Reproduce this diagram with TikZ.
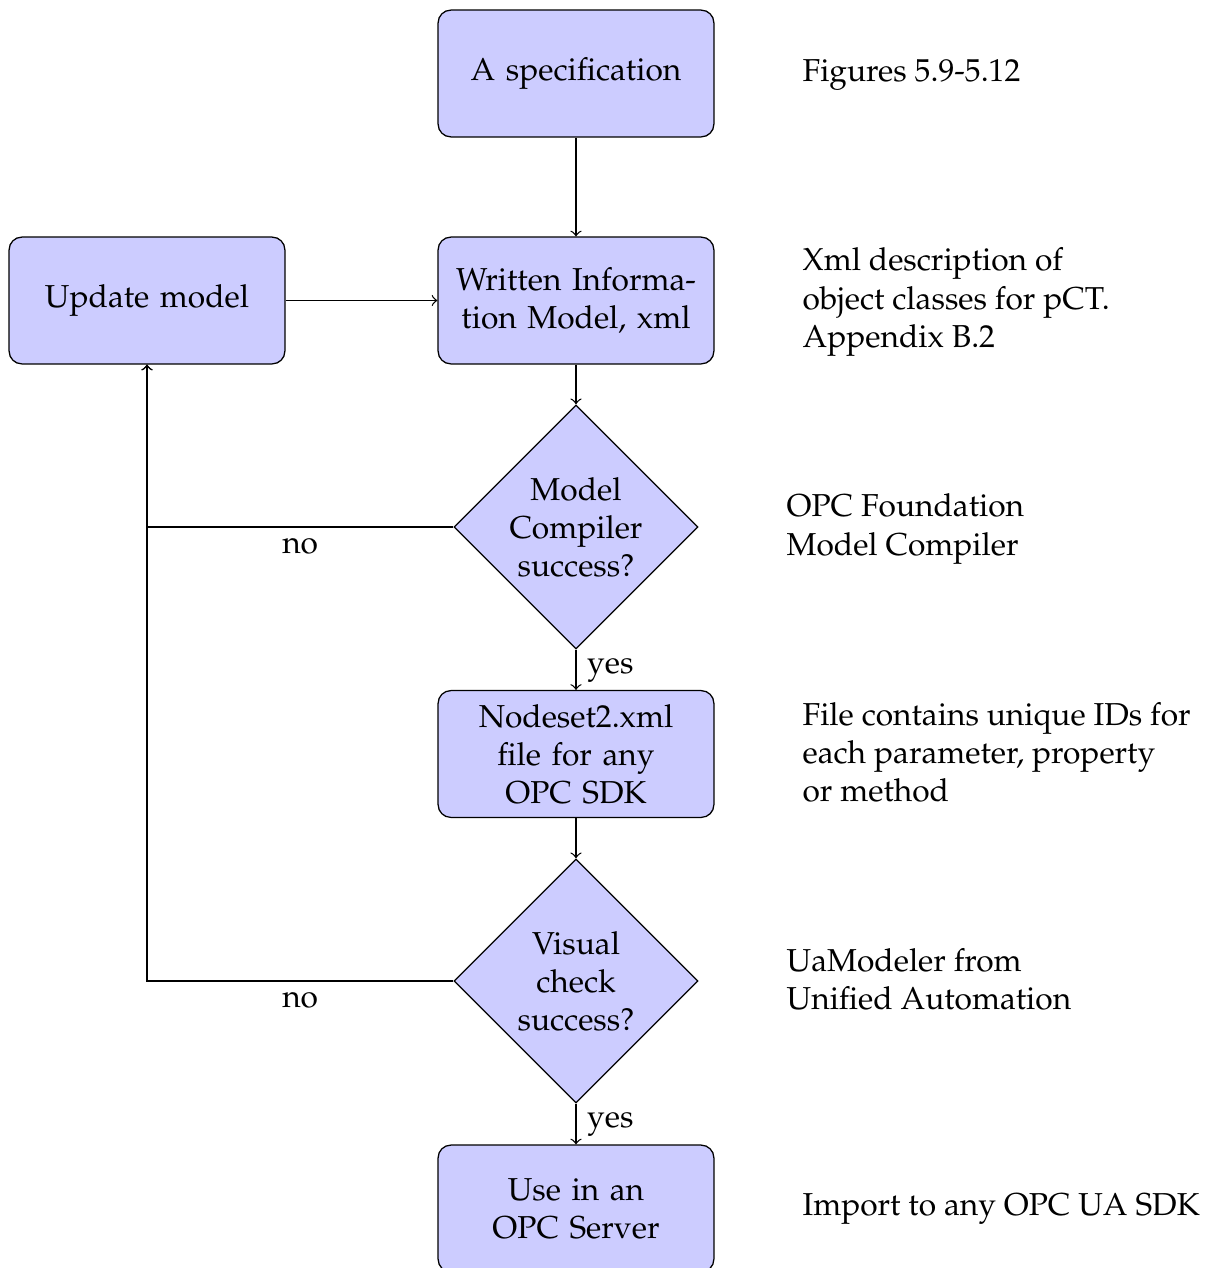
\documentclass[tikz,border=0pt]{standalone}
\usepackage[T1]{fontenc}
\usepackage{mathpazo}
\usetikzlibrary{shapes.geometric}
\begin{document}
\begin{tikzpicture}[x=0.31546pt,y=-0.31546pt,
  block/.style={rectangle, draw, fill=blue!20, rounded corners=4pt, text width=80pt,
    align=center, minimum width=87pt, minimum height=40pt, inner sep=3.33pt},
  decision/.style={diamond, draw, fill=blue!20, aspect=1, text width=42pt,
    align=center, inner sep=0pt, minimum width=77pt, minimum height=77pt},
  note/.style={anchor=west, align=left, inner sep=0pt},
  link/.style={draw, ->}]
\useasboundingbox (0,0) rectangle (1214,1268);

% process steps
\node[block] (spec) at (576,73.5) {A specification};
\node[block] (written) at (576,300.5) {Written Informa-\\tion Model, xml};
\node[block] (update) at (147,300.5) {Update model};
\node[decision] (compile) at (576,527) {Model\\Compiler\\success?};
\node[block] (nodeset) at (576,754) {Nodeset2.xml\\file for any\\OPC SDK};
\node[decision] (visual) at (576,981) {Visual\\check\\success?};
\node[block] (use) at (576,1208.5) {Use in an\\OPC Server};

% remarks beside each step
\node[note] (n1) at (802,75) {Figures 5.9-5.12};
\node[note] (n2) at (802,302) {Xml description of\\object classes for pCT.\\Appendix B.2};
\node[note] (n3) at (786,529) {OPC Foundation\\Model Compiler};
\node[note] (n4) at (802,752) {File contains unique IDs for\\each parameter, property\\or method};
\node[note] (n5) at (786,979) {UaModeler from\\Unified Automation};
\node[note] (n6) at (802,1209) {Import to any OPC UA SDK};

% connectors
\path[link] (spec) -- (written);
\path[link] (update) -- (written);
\path[link] (written) -- (compile);
\path[link] (compile) -- node[right, pos=0.5] {yes} (nodeset);
\path[link] (compile) -| node[pos=0.25, below] {no} (update);
\path[link] (nodeset) -- (visual);
\path[link] (visual) -| node[pos=0.25, below] {no} (update);
\path[link] (visual) -- node[right, pos=0.5] {yes} (use);
\end{tikzpicture}
\end{document}
